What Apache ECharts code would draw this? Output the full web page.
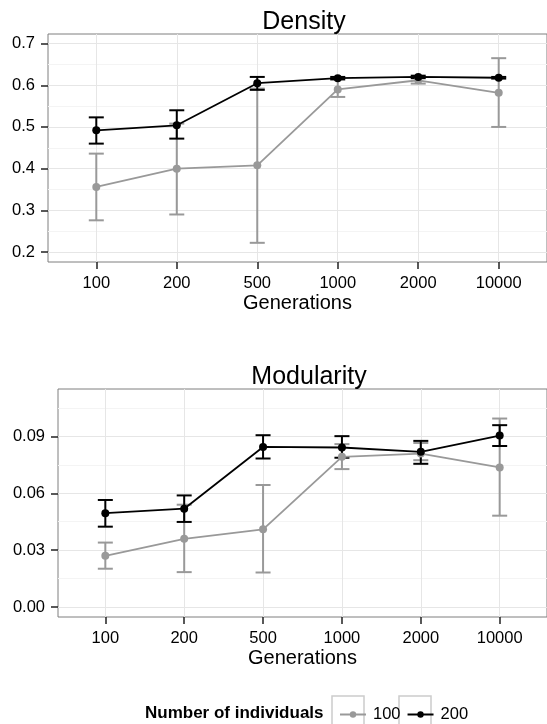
<!DOCTYPE html>
<html>
<head>
<meta charset="utf-8">
<script src="https://cdn.jsdelivr.net/npm/echarts@6/dist/echarts.min.js"></script>
<style>
  html, body { margin: 0; padding: 0; background: #fff; }
  #chart { width: 547px; height: 724px; }
</style>
</head>
<body>
<div id="chart"></div>
<script>
// categories
const generations = ['100', '200', '500', '1000', '2000', '10000'];
const groups = ['100', '200'];

// Density, 100 individuals
const density100 = [0.356, 0.400, 0.408, 0.590, 0.612, 0.582];
const density100Low = [0.276, 0.290, 0.222, 0.572, 0.604, 0.500];
const density100High = [0.436, 0.508, 0.592, 0.618, 0.620, 0.665];
// Density, 200 individuals
const density200 = [0.492, 0.504, 0.605, 0.617, 0.620, 0.618];
const density200Low = [0.460, 0.472, 0.589, 0.614, 0.617, 0.616];
const density200High = [0.523, 0.540, 0.620, 0.620, 0.623, 0.620];

// Modularity, 100 individuals
const modularity100 = [0.027, 0.036, 0.041, 0.0793, 0.081, 0.0737];
const modularity100Low = [0.0202, 0.0184, 0.0182, 0.0728, 0.0775, 0.0482];
const modularity100High = [0.034, 0.054, 0.0644, 0.086, 0.0866, 0.0995];
// Modularity, 200 individuals
const modularity200 = [0.0495, 0.0519, 0.0845, 0.0842, 0.0819, 0.0905];
const modularity200Low = [0.0424, 0.0449, 0.0784, 0.0788, 0.0756, 0.085];
const modularity200High = [0.0565, 0.0589, 0.0907, 0.0902, 0.0877, 0.096];

// tick labels
const densityTicks = [0.2, 0.3, 0.4, 0.5, 0.6, 0.7];
const densityMinor = [0.25, 0.35, 0.45, 0.55, 0.65];
const modularityTicks = [0, 0.03, 0.06, 0.09];
const modularityMinor = [0.015, 0.045, 0.075, 0.105];

const GREY = '#999999';
const BLACK = '#000000';
const font = 'Liberation Sans, Arial, Helvetica, sans-serif';
const catIdx = generations.map((g, i) => i);

function points(vals) {
  return vals.map((v, i) => [i, v]);
}

function bars(low, high) {
  return low.map((v, i) => [i, v, high[i]]);
}

// vertical error bar with caps
function errorBar(color) {
  return function (params, api) {
    const x = api.value(0);
    const lo = api.coord([x, api.value(1)]);
    const hi = api.coord([x, api.value(2)]);
    const w = 7.5;
    const style = { stroke: color, lineWidth: 2 };
    return {
      type: 'group',
      children: [
        { type: 'line', shape: { x1: lo[0], y1: lo[1], x2: hi[0], y2: hi[1] }, style },
        { type: 'line', shape: { x1: lo[0] - w, y1: lo[1], x2: lo[0] + w, y2: lo[1] }, style },
        { type: 'line', shape: { x1: hi[0] - w, y1: hi[1], x2: hi[0] + w, y2: hi[1] }, style },
      ],
    };
  };
}

function xAxis(gridIndex) {
  return {
    type: 'value',
    gridIndex,
    min: -0.6,
    max: 5.6,
    name: 'Generations',
    nameLocation: 'middle',
    nameGap: 31,
    nameTextStyle: { fontFamily: font, fontSize: 20, color: '#000' },
    axisLine: { show: false, onZero: false },
    axisTick: { customValues: catIdx, length: 7, lineStyle: { color: '#222', width: 1.5 } },
    axisLabel: {
      customValues: catIdx,
      margin: 13,
      fontFamily: font,
      fontSize: 16.5,
      color: '#000',
      formatter: v => generations[Math.round(v)],
    },
    splitLine: { show: true, lineStyle: { color: '#e6e6e6', width: 1 } },
  };
}

function yAxis(gridIndex, min, max, ticks, digits) {
  return {
    type: 'value',
    gridIndex,
    min,
    max,
    axisLine: { show: false, onZero: false },
    axisTick: { customValues: ticks, length: 7, lineStyle: { color: '#222', width: 1.5 } },
    axisLabel: {
      customValues: ticks,
      margin: 13,
      fontFamily: font,
      fontSize: 16.5,
      color: '#000',
      formatter: v => v.toFixed(digits),
    },
    splitLine: { show: true, lineStyle: { color: '#e6e6e6', width: 1 } },
  };
}

function minorAxis(gridIndex, min, max, ticks) {
  return {
    type: 'value',
    gridIndex,
    min,
    max,
    axisLine: { show: false, onZero: false },
    axisTick: { show: false, customValues: ticks },
    axisLabel: { show: false, customValues: ticks },
    splitLine: { show: true, lineStyle: { color: '#f4f4f4', width: 1 } },
  };
}

function lineSeries(name, color, vals, axis) {
  return {
    type: 'line',
    name,
    xAxisIndex: axis,
    yAxisIndex: axis * 2,
    data: points(vals),
    symbol: 'circle',
    symbolSize: 8,
    lineStyle: { color, width: 1.8 },
    itemStyle: { color },
    z: 4,
  };
}

function barSeries(name, color, low, high, axis) {
  return {
    type: 'custom',
    name,
    xAxisIndex: axis,
    yAxisIndex: axis * 2,
    data: bars(low, high),
    encode: { x: 0, y: [1, 2] },
    renderItem: errorBar(color),
    itemStyle: { color },
    z: 3,
  };
}

const chart = echarts.init(document.getElementById('chart'));

chart.setOption({
  animation: false,
  backgroundColor: '#fff',
  title: [
    { text: 'Density', left: 299, top: 5, textAlign: 'center',
      textStyle: { fontFamily: font, fontSize: 25, fontWeight: 'normal', color: '#000' } },
    { text: 'Modularity', left: 304, top: 360, textAlign: 'center',
      textStyle: { fontFamily: font, fontSize: 25, fontWeight: 'normal', color: '#000' } },
    { text: 'Number of individuals', left: 140, top: 700,
      textStyle: { fontFamily: font, fontSize: 17, fontWeight: 'bold', color: '#000' } },
  ],
  grid: [
    { left: 48, top: 34, right: -3, bottom: 462, show: true, borderColor: '#7f7f7f', borderWidth: 1, backgroundColor: '#fff' },
    { left: 58, top: 389, right: -4, bottom: 107, show: true, borderColor: '#7f7f7f', borderWidth: 1, backgroundColor: '#fff' },
  ],
  xAxis: [xAxis(0), xAxis(1)],
  yAxis: [
    yAxis(0, 0.176, 0.723, densityTicks, 1),
    minorAxis(0, 0.176, 0.723, densityMinor),
    yAxis(1, -0.0053, 0.1151, modularityTicks, 2),
    minorAxis(1, -0.0053, 0.1151, modularityMinor),
  ],
  legend: {
    data: groups,
    left: 334,
    top: 701,
    itemWidth: 26,
    itemHeight: 8,
    itemGap: 6,
    textStyle: { fontFamily: font, fontSize: 16.5, color: '#000', padding: [0, 0, 0, 2] },
  },
  graphic: [
    { type: 'rect', shape: { x: 332, y: 696, width: 32, height: 34 }, style: { fill: 'none', stroke: '#cccccc', lineWidth: 1.5 }, z: -1 },
    { type: 'rect', shape: { x: 399, y: 696, width: 32, height: 34 }, style: { fill: 'none', stroke: '#cccccc', lineWidth: 1.5 }, z: -1 },
  ],
  series: [
    lineSeries(groups[0], GREY, density100, 0),
    lineSeries(groups[1], BLACK, density200, 0),
    lineSeries(groups[0], GREY, modularity100, 1),
    lineSeries(groups[1], BLACK, modularity200, 1),
    barSeries(groups[0], GREY, density100Low, density100High, 0),
    barSeries(groups[1], BLACK, density200Low, density200High, 0),
    barSeries(groups[0], GREY, modularity100Low, modularity100High, 1),
    barSeries(groups[1], BLACK, modularity200Low, modularity200High, 1),
  ],
});
</script>
</body>
</html>
